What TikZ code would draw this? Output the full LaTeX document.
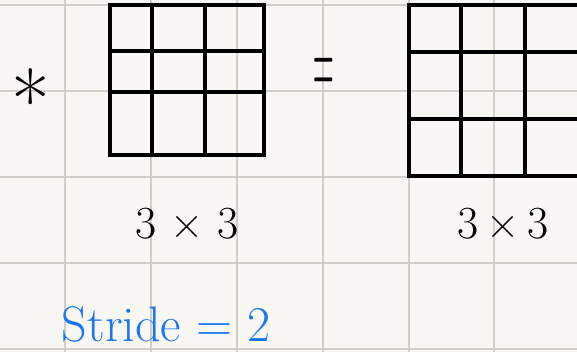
\documentclass[tikz,border=0pt]{standalone}
\usepackage{amsmath,amssymb}
\usepackage{xcolor}
\usepackage{tikz}
\usetikzlibrary{positioning}
\definecolor{papel}{RGB}{249,247,243}
\definecolor{renglon}{RGB}{210,206,200}
\definecolor{tinta}{RGB}{24,118,242}

\begin{document}
\begin{tikzpicture}[x=1pt,y=-1pt,
  cuadro/.style={draw=renglon,line width=1.1pt},
  malla/.style={draw=black,line width=3.3pt,line cap=rect},
  letra/.style={inner sep=0pt,font=\fontsize{46}{46}\selectfont},
  azul/.style={letra,text=tinta,font=\fontsize{50}{50}\selectfont}
]
  \fill[papel] (0,0) rectangle (577,352);
  \useasboundingbox (0,0) rectangle (577,352);
  \begin{scope}
    \clip (0,0) rectangle (577,352);
    \draw[cuadro] (65,0)--(65,352) (151,0)--(151,352) (237,0)--(237,352)
      (323,0)--(323,352) (409,0)--(409,352) (494,0)--(494,352);
    \draw[cuadro] (0,5)--(577,5) (0,91)--(577,91) (0,177)--(577,177)
      (0,263)--(577,263) (0,349)--(577,349);
    \draw[malla] (110,5) rectangle (264,155) (152,5)--(152,155) (205,5)--(205,155)
      (110,51)--(264,51) (110,92)--(264,92);
    \draw[malla] (409,5) rectangle (600,176) (461,5)--(461,176) (525,5)--(525,176)
      (409,52)--(600,52) (409,119)--(600,119);
  \end{scope}
  \node[letra,font=\fontsize{84}{84}\selectfont] (asterisco) at (31,100) {*};
  \node[letra,font=\fontsize{110}{110}\selectfont] (igual) at (324,78) {\scalebox{0.26}[1]{=}};
  \node[letra] (tamA) at (187,224) {3 × 3};
  \node[letra] (tamB) at (503,224) {3\,×\,3};
  \node[azul] (paso) at (166,324) {Stride = 2};
\end{tikzpicture}
\end{document}
